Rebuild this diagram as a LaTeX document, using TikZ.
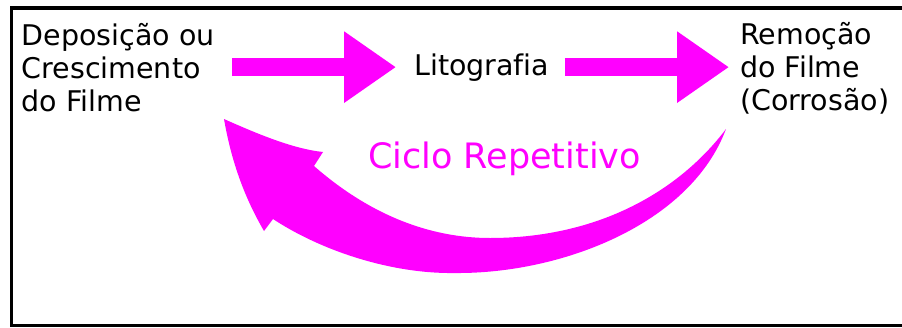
\documentclass[tikz,border=0pt]{standalone}
\usepackage{fontspec}
\setmainfont[Ligatures=NoCommon]{DejaVu Sans}
\usetikzlibrary{arrows.meta}
\definecolor{cyclemag}{RGB}{255,0,255}
\begin{document}
\begin{tikzpicture}[x=1pt,y=-1pt,
  stage/.style={inner sep=0pt, font=\fontsize{28.5}{32.8}\selectfont, anchor=base west},
  flow/.style={draw=cyclemag, line width=18pt, -{Triangle[length=52pt,width=68pt]}},
]
\useasboundingbox (0,0) rectangle (902,327);
\clip (0,0) rectangle (902,327);

% frame
\draw[line width=3.5pt] (11.3,8) rectangle (915,325.5);

% process stages
\node[stage] (dep) at (21.5,45.5) {\vtop{\hbox{Deposição ou}\hbox{Crescimento}\hbox{do Filme}}};
\node[stage] (lit) at (414,75) {Litografia};
\node[stage] (rem) at (740,44.5) {\vtop{\hbox{Remoção}\hbox{do Filme}\hbox{(Corrosão)}}};

% forward arrows
\draw[flow, shorten <=17.5pt, shorten >=18pt] (dep.east |- lit.west) -- (lit.west);
\draw[flow, shorten <=15.4pt, shorten >=11pt] (lit.east) -- (rem.west |- lit.east);

% curved return arrow
\fill[cyclemag] (726,129)
  .. controls (690,225) and (560,274) .. (455,273)
  .. controls (390,274) and (320,250) .. (273,219)
  -- (264,231)
  .. controls (246,200) and (232,165) .. (224,119)
  .. controls (262,136) and (295,149) .. (323,152)
  -- (314,166)
  .. controls (370,215) and (430,238) .. (490,238)
  .. controls (600,238) and (680,190) .. (726,129)
  -- cycle;

\node[stage, text=cyclemag, font=\fontsize{35}{42}\selectfont] (cyc) at (368,168) {Ciclo Repetitivo};
\end{tikzpicture}
\end{document}
